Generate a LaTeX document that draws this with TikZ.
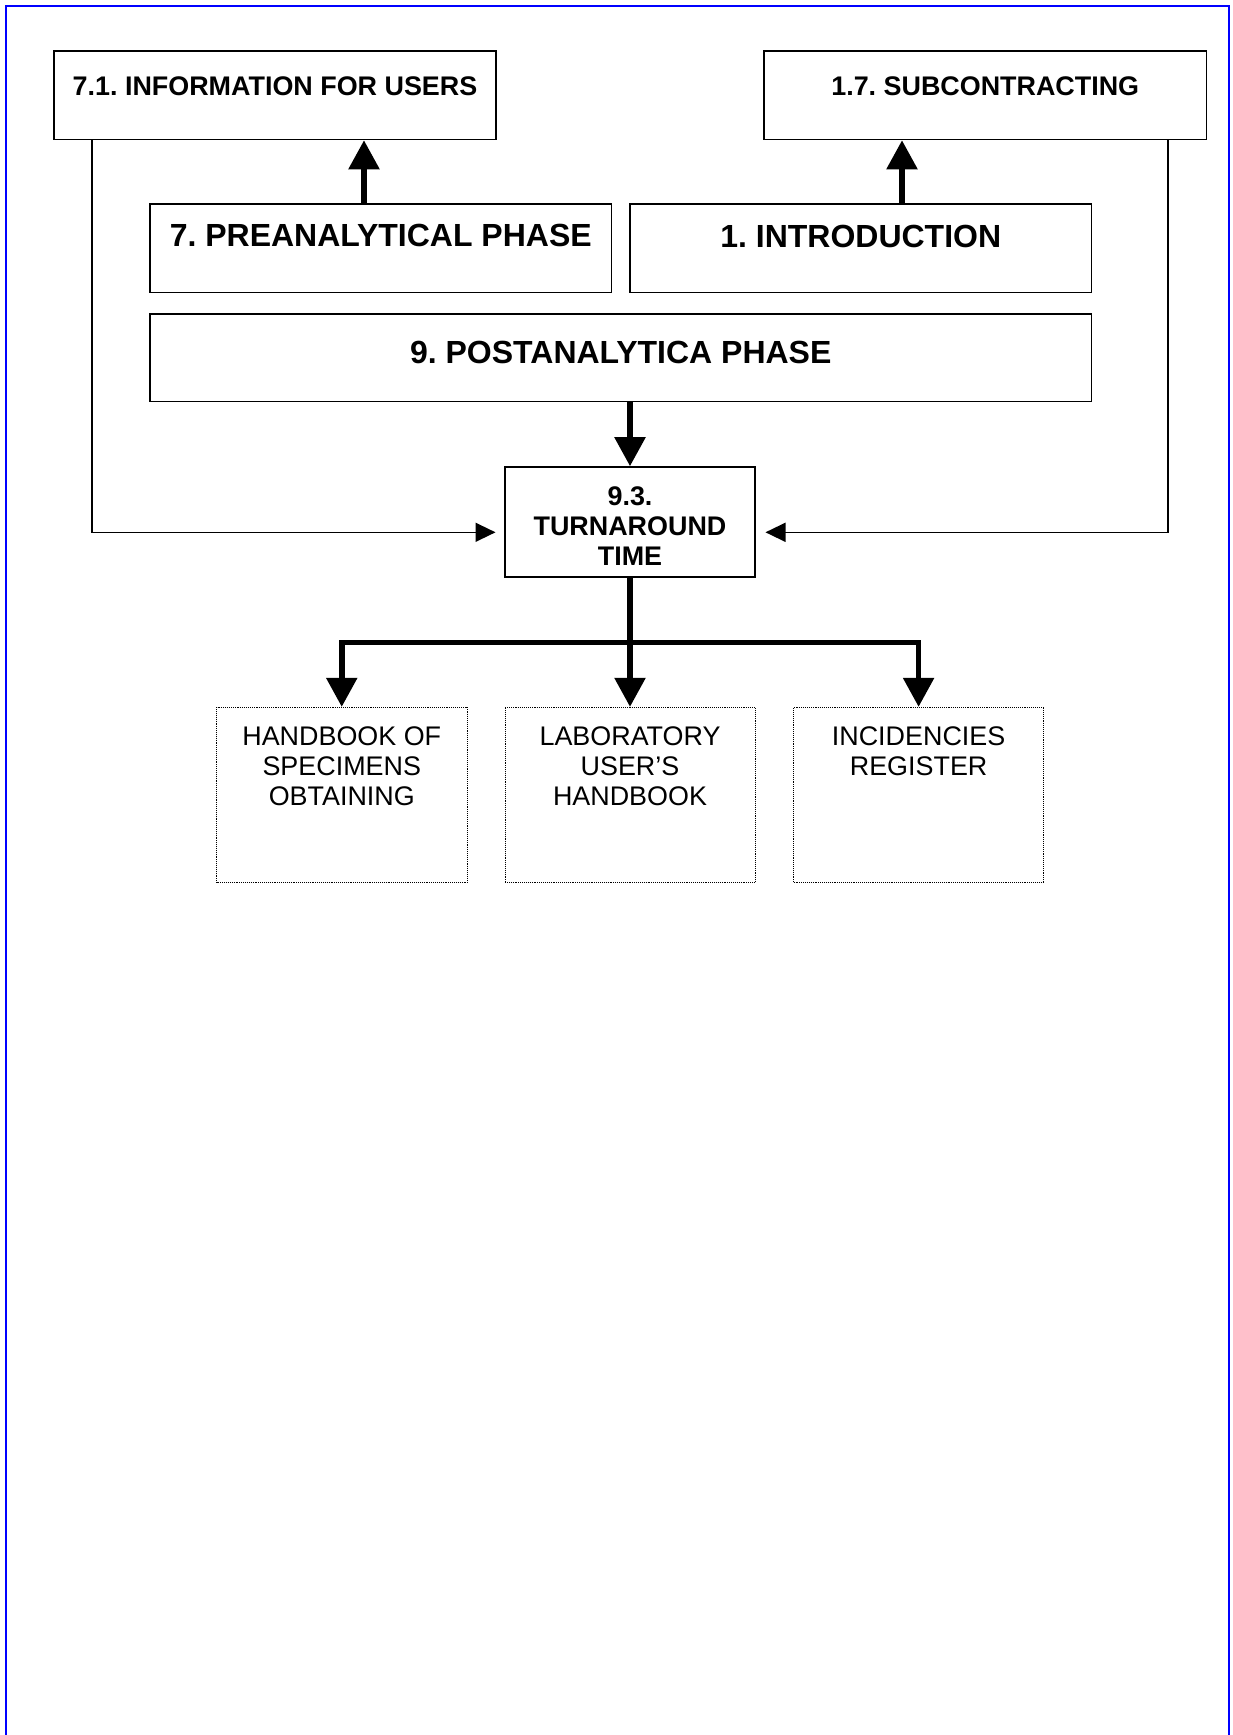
\documentclass[tikz,border=0pt]{standalone}
\usepackage{fontspec}
\setmainfont{Liberation Sans}
\usetikzlibrary{arrows.meta,calc}
\frenchspacing
\begin{document}
\begin{tikzpicture}[x=1pt,y=-1pt,
  box/.style={draw, line width=1.6pt, inner sep=0pt},
  dbox/.style={draw, densely dotted, line width=0.9pt, inner sep=0pt},
  smb/.style={font={\fontsize{26.9}{30}\selectfont\bfseries\frenchspacing}, inner sep=0pt, anchor=north, align=center},
  smr/.style={font={\fontsize{26.9}{30}\selectfont\frenchspacing}, inner sep=0pt, anchor=north, align=center},
  lgb/.style={font={\fontsize{32}{36}\selectfont\bfseries\frenchspacing}, inner sep=0pt, anchor=north, align=center},
  bigarrow/.style={line width=5.5pt, -{Triangle[length=29pt,width=30pt]}},
  thinarrow/.style={line width=1.5pt, -{Triangle[length=20pt,width=19pt]}},
  fat/.style={line width=5pt}
]
\useasboundingbox (0,0) rectangle (1232,1735);
% blue frame
\draw[blue, line width=2pt] (5.5,1735) -- (5.5,6) -- (1229.4,6) -- (1229.4,1735);

% boxes
\node[box, minimum width=442pt, minimum height=88.5pt] (n71) at (275,95.25) {};
\node[box, minimum width=442.5pt, minimum height=88.5pt] (n17) at (985.25,95.25) {};
\node[box, minimum width=461.5pt, minimum height=88.8pt] (n7) at (380.75,248.1) {};
\node[box, minimum width=461.5pt, minimum height=88.8pt] (n1) at (860.75,248.1) {};
\node[box, minimum width=941.5pt, minimum height=87.8pt] (n9) at (620.75,357.6) {};
\node[box, minimum width=250pt, minimum height=109.7pt] (n93) at (630,521.85) {};
\node[dbox, minimum width=250.5pt, minimum height=175.4pt] (d1) at (341.75,795) {};
\node[dbox, minimum width=250pt, minimum height=175.4pt] (d2) at (630,795) {};
\node[dbox, minimum width=250pt, minimum height=175.4pt] (d3) at (918.6,795) {};

% texts
\node[smb] (t71) at (275,76.3) {7.1. INFORMATION FOR USERS};
\node[smb] (t17) at (985.25,76.3) {1.7. SUBCONTRACTING};
\node[lgb] (t7) at (380.75,223.5) {7. PREANALYTICAL PHASE};
\node[lgb] (t1) at (860.75,225.2) {1. INTRODUCTION};
\node[lgb] (t9) at (620.75,341.2) {9. POSTANALYTICA PHASE};
\node[smb] (t93) at (630,487) {9.3.\\TURNAROUND\\TIME};
\node[smr] (td1) at (341.75,727) {HANDBOOK OF\\SPECIMENS\\OBTAINING};
\node[smr] (td2) at (630,727) {LABORATORY\\USER’S\\HANDBOOK};
\node[smr] (td3) at (918.6,727) {INCIDENCIES\\REGISTER};

% helper coordinates
\coordinate (c71) at (364,0);
\coordinate (c17) at (902,0);
\coordinate (cl) at (92,0);
\coordinate (cr) at (1168,0);
\coordinate (inL) at (495.5,532.3);
\coordinate (inR) at (765.5,532.3);
\coordinate (fk) at (630,642);

% connectors
\draw[bigarrow] (n7.north -| c71) -- (n71.south -| c71);
\draw[bigarrow] (n1.north -| c17) -- (n17.south -| c17);
\draw[bigarrow] (n9.south -| n93.north) -- (n93.north);
\draw[thinarrow] (n71.south -| cl) |- (inL);
\draw[thinarrow] (n17.south -| cr) |- (inR);
\draw[fat, line cap=rect] (fk -| d1.north) -- (fk -| d3.north);
\draw[bigarrow] (n93.south) -- (d2.north);
\draw[bigarrow] (fk -| d1.north) -- (d1.north);
\draw[bigarrow] (fk -| d3.north) -- (d3.north);
\end{tikzpicture}
\end{document}
